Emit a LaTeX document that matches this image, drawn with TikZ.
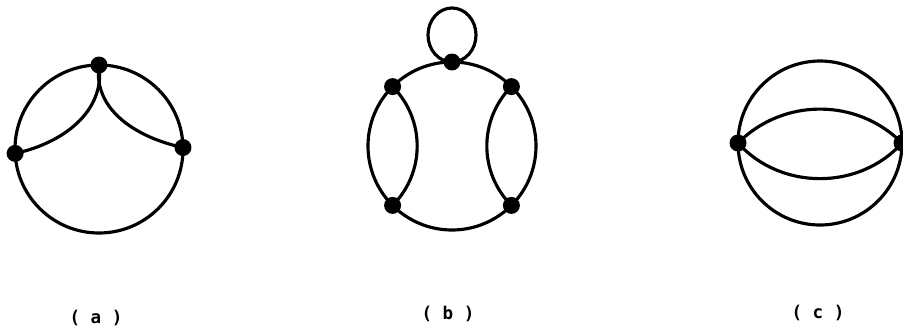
\documentclass[tikz,border=0pt]{standalone}
\usepackage{fontspec}
\newfontfamily\labelfont{DejaVu Sans Mono}
\usetikzlibrary{calc,backgrounds}
\begin{document}
\begin{tikzpicture}[x=0.02cm, y=0.02cm]
        \tikzstyle{vtx}=[circle, fill=black, inner sep=0pt, minimum size=0.34cm];
        \tikzstyle{line}=[draw, line width=1.8pt];
        \tikzstyle{caption}=[font=\labelfont\bfseries\fontsize{10}{12}\selectfont];

        \useasboundingbox (0,0) rectangle (903,329);

        % (a)
        \coordinate (ca) at (99,180);
        \node[vtx] (a1) at ($(ca)+(90:84)$) {};
        \node[vtx] (a2) at ($(ca)+(183:84)$) {};
        \node[vtx] (a3) at ($(ca)+(1:84)$) {};
        \begin{scope}[on background layer]
        \path[line] (ca) circle[radius=84];
        \path[line] (a1.center) to[out=-82, in=12] (a2.center);
        \path[line] (a1.center) to[out=-98, in=168] (a3.center);
        \end{scope}
        \node[caption] (la) at (96,11) {( a )};

        % (b)
        \coordinate (cb) at (452,183);
        \node[vtx] (b1) at ($(cb)+(90:84)$) {};
        \node[vtx] (b2) at ($(cb)+(135:84)$) {};
        \node[vtx] (b3) at ($(cb)+(45:84)$) {};
        \node[vtx] (b4) at ($(cb)+(225:84)$) {};
        \node[vtx] (b5) at ($(cb)+(315:84)$) {};
        \begin{scope}[on background layer]
        \path[line] (cb) circle[radius=84];
        \path[line] (b1.center) ++(0,27) ellipse[x radius=24, y radius=27];
        \path[line] (b2.center) to[bend left=45] (b4.center);
        \path[line] (b3.center) to[bend right=45] (b5.center);
        \end{scope}
        \node[caption] (lb) at (448,15) {( b )};

        % (c)
        \coordinate (cc) at (820,186);
        \node[vtx] (c1) at ($(cc)+(180:82)$) {};
        \node[vtx] (c2) at ($(cc)+(0:82)$) {};
        \begin{scope}[on background layer]
        \path[line] (cc) circle[radius=82];
        \path[line] (c1.center) to[bend left=45] (c2.center);
        \path[line] (c1.center) to[bend right=48] (c2.center);
        \end{scope}
        \node[caption] (lc) at (818,16) {( c )};
\end{tikzpicture}
\end{document}
